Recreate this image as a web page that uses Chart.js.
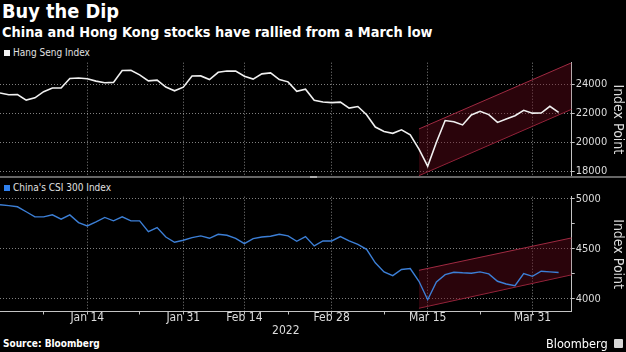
<!DOCTYPE html>
<html>
<head>
<meta charset="utf-8">
<script src="https://cdn.jsdelivr.net/npm/chart.js"></script>
<style>
  html, body { margin: 0; padding: 0; background: #000; }
  body { width: 626px; height: 352px; position: relative; overflow: hidden;
         font-family: 'DejaVu Sans Condensed', 'DejaVu Sans', sans-serif; color: #fff; }
  .abs { position: absolute; white-space: nowrap; }
  #title { left: 2px; top: 2px; font-size: 19.8px; line-height: 19px; font-weight: bold; }
  #subtitle { left: 2px; top: 25px; font-size: 14.4px; line-height: 14px; font-weight: bold; }
  .legbox { width: 6px; height: 6px; }
  .legtxt { font-size: 10px; line-height: 12px; color: #e0e0e0; }
  #topWrap { left: 0; top: 53px; width: 626px; height: 131px; }
  #botWrap { left: 0; top: 187px; width: 626px; height: 150px; }
  #divider { left: 0; top: 176px; width: 626px; height: 2px; background: #666; z-index: 2; }
  #handle { left: 310px; top: 176px; width: 7px; height: 2px; background: #b0b0b0; z-index: 3; }
  #source { left: 3px; top: 339px; font-size: 10px; line-height: 10px; font-weight: bold; }
  #brand { left: 546px; top: 338px; font-size: 12.6px; line-height: 12px; }
  #icon { left: 614px; top: 339px; width: 9px; height: 9px; background: #d8d8d8; border-radius: 1px; }
</style>
</head>
<body>
<div id="title" class="abs">Buy the Dip</div>
<div id="subtitle" class="abs">China and Hong Kong stocks have rallied from a March low</div>

<div class="abs legbox" style="left:4px; top:50px; background:#f2f2f2;"></div>
<div class="abs legtxt" style="left:13px; top:47px;">Hang Seng Index</div>
<div class="abs legbox" style="left:4px; top:185px; background:#2f80ed;"></div>
<div class="abs legtxt" style="left:13px; top:182px;">China's CSI 300 Index</div>

<div id="topWrap" class="abs"><canvas id="topChart"></canvas></div>
<div id="botWrap" class="abs"><canvas id="botChart"></canvas></div>
<div id="divider" class="abs"></div>
<div id="handle" class="abs"></div>

<div id="source" class="abs">Source: Bloomberg</div>
<div id="brand" class="abs">Bloomberg</div>
<div id="icon" class="abs"></div>

<script>
// trading days on the shared x axis
const dates = [
  'Dec 31',
  'Jan 3', 'Jan 4', 'Jan 5', 'Jan 6', 'Jan 7',
  'Jan 10', 'Jan 11', 'Jan 12', 'Jan 13', 'Jan 14',
  'Jan 17', 'Jan 18', 'Jan 19', 'Jan 20', 'Jan 21',
  'Jan 24', 'Jan 25', 'Jan 26', 'Jan 27', 'Jan 28',
  'Jan 31', 'Feb 4',
  'Feb 7', 'Feb 8', 'Feb 9', 'Feb 10', 'Feb 11',
  'Feb 14', 'Feb 15', 'Feb 16', 'Feb 17', 'Feb 18',
  'Feb 21', 'Feb 22', 'Feb 23', 'Feb 24', 'Feb 25',
  'Feb 28', 'Mar 1', 'Mar 2', 'Mar 3', 'Mar 4',
  'Mar 7', 'Mar 8', 'Mar 9', 'Mar 10', 'Mar 11',
  'Mar 14', 'Mar 15', 'Mar 16', 'Mar 17', 'Mar 18',
  'Mar 21', 'Mar 22', 'Mar 23', 'Mar 24', 'Mar 25',
  'Mar 28', 'Mar 29', 'Mar 30', 'Mar 31', 'Apr 1',
  'Apr 4', 'Apr 6'
];

const hsiValues = [
  23400,
  23280, 23290, 22910, 23070, 23490,
  23740, 23740, 24400, 24430, 24380,
  24220, 24110, 24130, 24950, 24970,
  24650, 24240, 24290, 23810, 23550,
  23800, 24570,
  24580, 24330, 24830, 24920, 24910,
  24560, 24360, 24720, 24790, 24330,
  24170, 23520, 23660, 22900, 22780,
  22740, 22770, 22360, 22470, 21900,
  21050, 20740, 20620, 20860, 20510,
  19530, 18350, 20000, 21500, 21420,
  21200, 21890, 22140, 21910, 21370,
  21600, 21830, 22210, 22010, 22020,
  22480, 22070
];

const csiValues = [
  4943,
  4933, 4922, 4872, 4821, 4821,
  4841, 4798, 4841, 4764, 4730,
  4771, 4815, 4781, 4821, 4781,
  4781, 4673, 4714, 4619, 4566,
  4586, 4613,
  4630, 4606, 4646, 4636, 4606,
  4552, 4603, 4619, 4626, 4646,
  4630, 4576, 4623, 4530, 4579,
  4579, 4623, 4579, 4545, 4495,
  4360, 4269, 4232, 4293, 4303,
  4175, 3990, 4168, 4242, 4266,
  4260, 4256, 4269, 4249, 4175,
  4148, 4131, 4253, 4225, 4276,
  4269, 4263
];

const xLabelDates = ['Jan 14', 'Jan 31', 'Feb 14', 'Feb 28', 'Mar 15', 'Mar 31'];
const xMinorDates = ['Jan 7', 'Jan 24', 'Feb 21', 'Mar 8', 'Mar 23'];

const hsiTicks = [18000, 19000, 20000, 21000, 22000, 23000, 24000, 25000];
const hsiTickLabels = [18000, 20000, 22000, 24000];
const csiTicks = [4000, 4250, 4500, 4750, 5000];
const csiTickLabels = [4000, 4500, 5000];

// trend channel drawn from the March low (x in trading-day positions)
const channelX = [48, 65.5];
const hsiChannelUpper = [20920, 25490];
const hsiChannelLower = [17700, 22280];
const csiChannelUpper = [4285, 4610];
const csiChannelLower = [3905, 4240];

const labelIdx = xLabelDates.map(d => dates.indexOf(d));
const minorIdx = xMinorDates.map(d => dates.indexOf(d));
const xTickIdx = labelIdx.concat(minorIdx).sort((a, b) => a - b);

const FONT = "'DejaVu Sans Condensed', 'DejaVu Sans', sans-serif";
const TEXT = '#dcdcdc';
const GRID = 'rgba(255,255,255,0.5)';
const AXIS = '#c4c4c4';
const CHANNEL_LINE = '#a02a42';
const CHANNEL_FILL = 'rgba(100,10,26,0.42)';

function points(values) {
  return values.map((v, i) => ({x: i, y: v}));
}
function pairs(xs, ys) {
  return xs.map((x, i) => ({x: x, y: ys[i]}));
}

function buildChart(id, cfg) {
  return new Chart(document.getElementById(id), {
    type: 'line',
    data: {
      datasets: [
        {label: cfg.name, data: points(cfg.values), borderColor: cfg.color, borderWidth: cfg.width,
         pointRadius: 0, tension: 0, fill: false},
        {label: 'upper', data: pairs(channelX, cfg.upper), borderColor: CHANNEL_LINE, borderWidth: 1,
         pointRadius: 0, fill: '+1', backgroundColor: CHANNEL_FILL},
        {label: 'lower', data: pairs(channelX, cfg.lower), borderColor: CHANNEL_LINE, borderWidth: 1,
         pointRadius: 0, fill: false}
      ]
    },
    options: {
      responsive: true,
      maintainAspectRatio: false,
      animation: false,
      layout: {padding: {left: 0, right: 0, top: 9.7, bottom: cfg.padBottom}},
      plugins: {legend: {display: false}, tooltip: {enabled: false}},
      scales: {
        x: {
          type: 'linear', min: 0, max: 65.5,
          afterBuildTicks: s => { s.ticks = xTickIdx.map(v => ({value: v})); },
          ticks: {
            display: cfg.showX, autoSkip: false, maxRotation: 0, padding: -3, color: TEXT,
            font: {family: FONT, size: 12, lineHeight: 1},
            callback: v => labelIdx.includes(v) ? dates[v] : ''
          },
          grid: {
            color: c => (c.tick && labelIdx.includes(c.tick.value)) ? GRID : 'rgba(0,0,0,0)',
            drawTicks: cfg.showX, tickLength: 3, tickColor: AXIS
          },
          border: {display: cfg.showX, color: AXIS, dash: [1, 2]},
          title: {display: cfg.showX, text: '2022', color: TEXT,
                  font: {family: FONT, size: 12, lineHeight: 1}, padding: {top: 4, bottom: 0}}
        },
        y: {
          position: 'right', min: cfg.min, max: cfg.max,
          afterBuildTicks: s => { s.ticks = cfg.ticks.map(v => ({value: v})); },
          afterFit: s => { s.width = 54.3; },
          ticks: {
            padding: 1, color: TEXT, font: {family: FONT, size: 11},
            callback: v => cfg.tickLabels.includes(v) ? String(v) : ''
          },
          grid: {
            color: c => (c.tick && cfg.tickLabels.includes(c.tick.value)) ? GRID : 'rgba(0,0,0,0)',
            tickLength: 3, tickColor: AXIS
          },
          border: {color: AXIS, dash: [1, 2]},
          title: {display: true, text: 'Index Point', color: TEXT,
                  font: {family: FONT, size: 14}, padding: {top: 0, bottom: 0}}
        }
      }
    }
  });
}

buildChart('topChart', {
  name: 'Hang Seng Index', values: hsiValues, color: '#f0f0f0', width: 1.6,
  upper: hsiChannelUpper, lower: hsiChannelLower,
  min: 17676, max: 25490, ticks: hsiTicks, tickLabels: hsiTickLabels,
  showX: false, padBottom: 8
});

buildChart('botChart', {
  name: "China's CSI 300 Index", values: csiValues, color: '#3c7fd6', width: 1.4,
  upper: csiChannelUpper, lower: csiChannelLower,
  min: 3872, max: 5023, ticks: csiTicks, tickLabels: csiTickLabels,
  showX: true, padBottom: 0.5
});
</script>
</body>
</html>
